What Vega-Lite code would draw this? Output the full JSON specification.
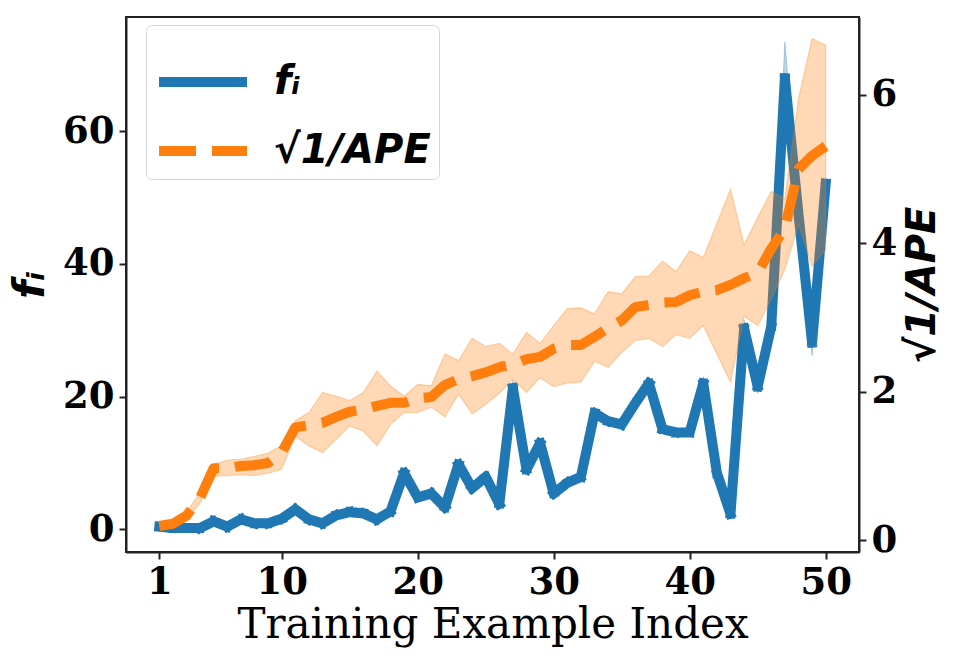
{
  "$schema": "https://vega.github.io/schema/vega-lite/v6.json",
  "autosize": {"type": "none"},
  "padding": {"left": 126, "top": 17, "right": 110, "bottom": 111},
  "width": 733,
  "height": 535,
  "background": "white",
  "datasets": {
    "fdata": [
      {"i": 1, "series": "f", "v": 0.4, "lo": 0.2, "hi": 0.6},
      {"i": 2, "series": "f", "v": 0.2, "lo": 0.1, "hi": 0.3},
      {"i": 3, "series": "f", "v": 0.2, "lo": 0.1, "hi": 0.3},
      {"i": 4, "series": "f", "v": 0.2, "lo": 0.1, "hi": 0.3},
      {"i": 5, "series": "f", "v": 1.2, "lo": 1.0, "hi": 1.4},
      {"i": 6, "series": "f", "v": 0.4, "lo": 0.2, "hi": 0.6},
      {"i": 7, "series": "f", "v": 1.5, "lo": 1.3, "hi": 1.7},
      {"i": 8, "series": "f", "v": 0.9, "lo": 0.7, "hi": 1.1},
      {"i": 9, "series": "f", "v": 0.9, "lo": 0.7, "hi": 1.1},
      {"i": 10, "series": "f", "v": 1.6, "lo": 1.4, "hi": 1.8},
      {"i": 11, "series": "f", "v": 3.0, "lo": 2.7, "hi": 3.3},
      {"i": 12, "series": "f", "v": 1.5, "lo": 1.3, "hi": 1.7},
      {"i": 13, "series": "f", "v": 0.9, "lo": 0.7, "hi": 1.1},
      {"i": 14, "series": "f", "v": 2.1, "lo": 1.9, "hi": 2.3},
      {"i": 15, "series": "f", "v": 2.6, "lo": 2.4, "hi": 2.8},
      {"i": 16, "series": "f", "v": 2.4, "lo": 2.2, "hi": 2.6},
      {"i": 17, "series": "f", "v": 1.5, "lo": 1.3, "hi": 1.7},
      {"i": 18, "series": "f", "v": 2.7, "lo": 2.5, "hi": 2.9},
      {"i": 19, "series": "f", "v": 8.5, "lo": 8.2, "hi": 8.8},
      {"i": 20, "series": "f", "v": 4.8, "lo": 4.5, "hi": 5.1},
      {"i": 21, "series": "f", "v": 5.4, "lo": 5.1, "hi": 5.7},
      {"i": 22, "series": "f", "v": 3.3, "lo": 3.0, "hi": 3.6},
      {"i": 23, "series": "f", "v": 9.8, "lo": 9.5, "hi": 10.1},
      {"i": 24, "series": "f", "v": 6.2, "lo": 5.9, "hi": 6.5},
      {"i": 25, "series": "f", "v": 7.9, "lo": 7.6, "hi": 8.2},
      {"i": 26, "series": "f", "v": 3.8, "lo": 3.5, "hi": 4.1},
      {"i": 27, "series": "f", "v": 21.3, "lo": 20.8, "hi": 22.5},
      {"i": 28, "series": "f", "v": 9.0, "lo": 8.7, "hi": 9.3},
      {"i": 29, "series": "f", "v": 13.0, "lo": 12.7, "hi": 13.3},
      {"i": 30, "series": "f", "v": 5.4, "lo": 5.1, "hi": 5.7},
      {"i": 31, "series": "f", "v": 7.0, "lo": 6.7, "hi": 7.3},
      {"i": 32, "series": "f", "v": 7.9, "lo": 7.6, "hi": 8.2},
      {"i": 33, "series": "f", "v": 17.5, "lo": 16.8, "hi": 18.0},
      {"i": 34, "series": "f", "v": 16.3, "lo": 15.6, "hi": 16.8},
      {"i": 35, "series": "f", "v": 15.8, "lo": 15.4, "hi": 16.2},
      {"i": 36, "series": "f", "v": 19.0, "lo": 18.6, "hi": 19.4},
      {"i": 37, "series": "f", "v": 22.0, "lo": 21.5, "hi": 23.0},
      {"i": 38, "series": "f", "v": 15.1, "lo": 14.7, "hi": 15.5},
      {"i": 39, "series": "f", "v": 14.6, "lo": 14.2, "hi": 15.0},
      {"i": 40, "series": "f", "v": 14.6, "lo": 14.0, "hi": 15.0},
      {"i": 41, "series": "f", "v": 22.0, "lo": 21.5, "hi": 23.0},
      {"i": 42, "series": "f", "v": 8.5, "lo": 8.1, "hi": 8.9},
      {"i": 43, "series": "f", "v": 2.3, "lo": 2.0, "hi": 2.6},
      {"i": 44, "series": "f", "v": 30.3, "lo": 29.6, "hi": 31.5},
      {"i": 45, "series": "f", "v": 21.5, "lo": 20.5, "hi": 22.2},
      {"i": 46, "series": "f", "v": 30.6, "lo": 29.0, "hi": 31.5},
      {"i": 47, "series": "f", "v": 68.0, "lo": 66.0, "hi": 73.4},
      {"i": 48, "series": "f", "v": 47.5, "lo": 46.5, "hi": 48.5},
      {"i": 49, "series": "f", "v": 28.1, "lo": 26.2, "hi": 29.0},
      {"i": 50, "series": "f", "v": 52.1, "lo": 51.5, "hi": 52.7}
    ],
    "adata": [
      {"i": 1, "series": "ape", "v": 0.19, "lo": 0.17, "hi": 0.21},
      {"i": 2, "series": "ape", "v": 0.22, "lo": 0.2, "hi": 0.25},
      {"i": 3, "series": "ape", "v": 0.33, "lo": 0.28, "hi": 0.38},
      {"i": 4, "series": "ape", "v": 0.57, "lo": 0.5, "hi": 0.64},
      {"i": 5, "series": "ape", "v": 0.97, "lo": 0.86, "hi": 1.02},
      {"i": 6, "series": "ape", "v": 0.97, "lo": 0.87, "hi": 1.08},
      {"i": 7, "series": "ape", "v": 1.0, "lo": 0.88, "hi": 1.09},
      {"i": 8, "series": "ape", "v": 1.01, "lo": 0.87, "hi": 1.13},
      {"i": 9, "series": "ape", "v": 1.04, "lo": 0.9, "hi": 1.17},
      {"i": 10, "series": "ape", "v": 1.18, "lo": 0.96, "hi": 1.28},
      {"i": 11, "series": "ape", "v": 1.52, "lo": 1.4, "hi": 1.61},
      {"i": 12, "series": "ape", "v": 1.55, "lo": 1.27, "hi": 1.72},
      {"i": 13, "series": "ape", "v": 1.58, "lo": 1.18, "hi": 1.99},
      {"i": 14, "series": "ape", "v": 1.66, "lo": 1.36, "hi": 1.94},
      {"i": 15, "series": "ape", "v": 1.73, "lo": 1.54, "hi": 1.88},
      {"i": 16, "series": "ape", "v": 1.76, "lo": 1.47, "hi": 1.99},
      {"i": 17, "series": "ape", "v": 1.81, "lo": 1.27, "hi": 2.28},
      {"i": 18, "series": "ape", "v": 1.85, "lo": 1.56, "hi": 2.08},
      {"i": 19, "series": "ape", "v": 1.85, "lo": 1.72, "hi": 1.94},
      {"i": 20, "series": "ape", "v": 1.91, "lo": 1.72, "hi": 2.1},
      {"i": 21, "series": "ape", "v": 1.93, "lo": 1.79, "hi": 2.08},
      {"i": 22, "series": "ape", "v": 2.09, "lo": 1.66, "hi": 2.51},
      {"i": 23, "series": "ape", "v": 2.17, "lo": 1.97, "hi": 2.42},
      {"i": 24, "series": "ape", "v": 2.21, "lo": 1.7, "hi": 2.72},
      {"i": 25, "series": "ape", "v": 2.26, "lo": 1.83, "hi": 2.61},
      {"i": 26, "series": "ape", "v": 2.33, "lo": 1.98, "hi": 2.65},
      {"i": 27, "series": "ape", "v": 2.37, "lo": 2.17, "hi": 2.51},
      {"i": 28, "series": "ape", "v": 2.44, "lo": 1.99, "hi": 2.8},
      {"i": 29, "series": "ape", "v": 2.47, "lo": 2.19, "hi": 2.65},
      {"i": 30, "series": "ape", "v": 2.58, "lo": 2.07, "hi": 2.89},
      {"i": 31, "series": "ape", "v": 2.63, "lo": 2.12, "hi": 3.12},
      {"i": 32, "series": "ape", "v": 2.63, "lo": 2.13, "hi": 3.13},
      {"i": 33, "series": "ape", "v": 2.74, "lo": 2.41, "hi": 3.05},
      {"i": 34, "series": "ape", "v": 2.86, "lo": 2.33, "hi": 3.35},
      {"i": 35, "series": "ape", "v": 2.96, "lo": 2.53, "hi": 3.32},
      {"i": 36, "series": "ape", "v": 3.14, "lo": 2.69, "hi": 3.55},
      {"i": 37, "series": "ape", "v": 3.17, "lo": 2.72, "hi": 3.56},
      {"i": 38, "series": "ape", "v": 3.2, "lo": 2.61, "hi": 3.76},
      {"i": 39, "series": "ape", "v": 3.21, "lo": 2.77, "hi": 3.62},
      {"i": 40, "series": "ape", "v": 3.3, "lo": 2.72, "hi": 3.9},
      {"i": 41, "series": "ape", "v": 3.35, "lo": 2.89, "hi": 3.81},
      {"i": 42, "series": "ape", "v": 3.37, "lo": 2.51, "hi": 4.27},
      {"i": 43, "series": "ape", "v": 3.44, "lo": 2.13, "hi": 4.73},
      {"i": 44, "series": "ape", "v": 3.53, "lo": 3.02, "hi": 3.98},
      {"i": 45, "series": "ape", "v": 3.6, "lo": 2.89, "hi": 4.35},
      {"i": 46, "series": "ape", "v": 3.93, "lo": 3.25, "hi": 4.7},
      {"i": 47, "series": "ape", "v": 4.2, "lo": 3.65, "hi": 4.6},
      {"i": 48, "series": "ape", "v": 5.0, "lo": 4.25, "hi": 5.95},
      {"i": 49, "series": "ape", "v": 5.18, "lo": 3.69, "hi": 6.76},
      {"i": 50, "series": "ape", "v": 5.31, "lo": 3.91, "hi": 6.67}
    ]
  },
  "encoding": {
    "x": {
      "field": "i",
      "type": "quantitative",
      "scale": {"domain": [-1.45, 52.45], "nice": false, "zero": false},
      "axis": {
        "values": [1, 10, 20, 30, 40, 50],
        "title": "Training Example Index",
        "titleFont": "DejaVu Serif",
        "titleFontWeight": "normal",
        "titleFontSize": 42,
        "titlePadding": 4,
        "labelFlush": false
      }
    }
  },
  "layer": [
    {
      "data": {"name": "fdata"},
      "layer": [
        {
          "mark": {"type": "area", "color": "#1f77b4", "fillOpacity": 0.3, "stroke": "#1f77b4", "strokeOpacity": 0.3, "strokeWidth": 1},
          "encoding": {
            "y": {"field": "lo", "type": "quantitative"},
            "y2": {"field": "hi"}
          }
        },
        {
          "mark": {"type": "line", "strokeWidth": 10, "strokeCap": "square", "strokeJoin": "round"},
          "encoding": {
            "y": {
              "field": "v",
              "type": "quantitative",
              "scale": {"domain": [-3.42, 77.2], "nice": false, "zero": false},
              "axis": {
                "orient": "left",
                "values": [0, 20, 40, 60],
                "format": "d",
                "title": "fᵢ",
                "titleFont": "DejaVu Sans",
                "titleFontStyle": "italic",
                "titleFontWeight": "bold",
                "titleFontSize": 42,
                "titlePadding": 10
              }
            },
            "color": {
              "field": "series",
              "type": "nominal",
              "scale": {"domain": ["f", "ape"], "range": ["#1f77b4", "#ff7f0e"]},
              "legend": {"title": null, "orient": "none", "legendX": 20, "legendY": 8, "labelExpr": "datum.label == 'f' ? 'fᵢ' : '√1/APE'"}
            },
            "strokeDash": {
              "field": "series",
              "type": "nominal",
              "scale": {"domain": ["f", "ape"], "range": [[1, 0], [37, 16]]},
              "legend": {"title": null, "orient": "none", "legendX": 20, "legendY": 8, "labelExpr": "datum.label == 'f' ? 'fᵢ' : '√1/APE'"}
            }
          }
        }
      ]
    },
    {
      "data": {"name": "adata"},
      "layer": [
        {
          "mark": {"type": "area", "color": "#ff7f0e", "fillOpacity": 0.3, "stroke": "#ff7f0e", "strokeOpacity": 0.3, "strokeWidth": 1.2},
          "encoding": {
            "y": {"field": "lo", "type": "quantitative"},
            "y2": {"field": "hi"}
          }
        },
        {
          "mark": {"type": "line", "strokeWidth": 10, "strokeCap": "butt", "strokeJoin": "round"},
          "encoding": {
            "y": {
              "field": "v",
              "type": "quantitative",
              "scale": {"domain": [-0.16, 7.05], "nice": false, "zero": false},
              "axis": {
                "orient": "right",
                "values": [0, 2, 4, 6],
                "format": "d",
                "title": "√1/APE",
                "titleFont": "DejaVu Sans",
                "titleFontStyle": "italic",
                "titleFontWeight": "bold",
                "titleFontSize": 40,
                "titleAngle": 270,
                "titleBaseline": "top",
                "titlePadding": 6
              }
            },
            "color": {
              "field": "series",
              "type": "nominal",
              "scale": {"domain": ["f", "ape"], "range": ["#1f77b4", "#ff7f0e"]},
              "legend": {"title": null, "orient": "none", "legendX": 20, "legendY": 8, "labelExpr": "datum.label == 'f' ? 'fᵢ' : '√1/APE'"}
            },
            "strokeDash": {
              "field": "series",
              "type": "nominal",
              "scale": {"domain": ["f", "ape"], "range": [[1, 0], [37, 16]]},
              "legend": {"title": null, "orient": "none", "legendX": 20, "legendY": 8, "labelExpr": "datum.label == 'f' ? 'fᵢ' : '√1/APE'"}
            }
          }
        }
      ]
    }
  ],
  "resolve": {"scale": {"y": "independent"}},
  "config": {
    "view": {"stroke": "#222222", "strokeWidth": 2},
    "axis": {
      "grid": false,
      "domainColor": "#222222",
      "domainWidth": 2,
      "tickColor": "#222222",
      "tickWidth": 2,
      "tickSize": 7,
      "labelFont": "DejaVu Serif",
      "labelFontWeight": "bold",
      "labelFontSize": 37,
      "labelColor": "black",
      "labelPadding": 5,
      "titleColor": "black"
    },
    "legend": {
      "symbolType": "stroke",
      "symbolSize": 7744,
      "symbolStrokeWidth": 10,
      "labelFont": "DejaVu Sans",
      "labelFontStyle": "italic",
      "labelFontWeight": "bold",
      "labelFontSize": 40,
      "labelColor": "black",
      "labelOffset": 22,
      "rowPadding": 0,
      "padding": 8,
      "fillColor": "rgba(255,255,255,0.8)",
      "strokeColor": "#d5d5d5",
      "cornerRadius": 6,
      "labelLimit": 400
    }
  }
}
